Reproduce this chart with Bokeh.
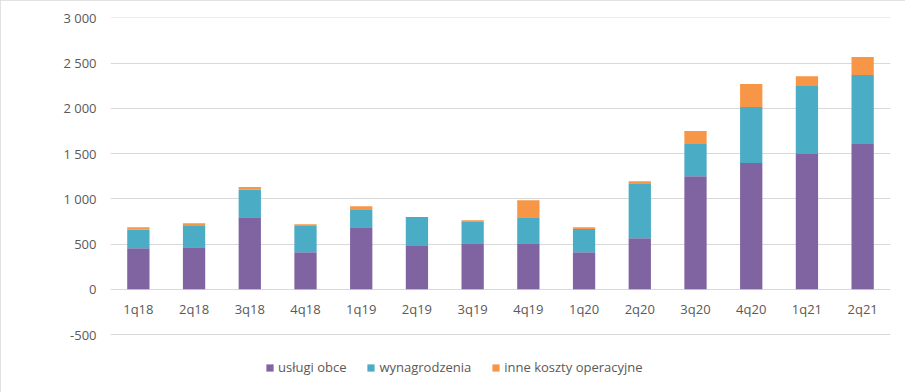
from bokeh.plotting import figure
from bokeh.models import ColumnDataSource, Range1d, FixedTicker, Legend, LegendItem
from bokeh.core.properties import value
from bokeh.embed import file_html
from bokeh.resources import INLINE

quarters = ["1q18", "2q18", "3q18", "4q18", "1q19", "2q19", "3q19", "4q19",
            "1q20", "2q20", "3q20", "4q20", "1q21", "2q21"]
uslugi_obce = [455, 465, 795, 410, 685, 478, 510, 510, 410, 565, 1250, 1395, 1495, 1605]
wynagrodzenia = [205, 235, 305, 298, 200, 320, 242, 287, 255, 607, 355, 618, 750, 762]
inne_koszty = [25, 30, 30, 12, 33, 0, 12, 188, 22, 23, 143, 255, 110, 200]
series_labels = ["usługi obce", "wynagrodzenia", "inne koszty operacyjne"]
y_ticks = [-500, 0, 500, 1000, 1500, 2000, 2500, 3000]
y_tick_labels = ["-500", "0", "500", "1 000", "1 500", "2 000", "2 500", "3 000"]

colors = ["#8064A2", "#4BACC6", "#F79646"]
FONT = "Open Sans"
TXT = "#595959"

src = ColumnDataSource(dict(q=quarters, a=uslugi_obce, b=wynagrodzenia, c=inne_koszty,
                            zero=[0] * len(quarters)))

p = figure(x_range=quarters, y_range=Range1d(-1140, 3003), width=905, height=392,
           output_backend="svg", toolbar_location=None, x_axis_location=None,
           min_border_left=110, min_border_right=15, min_border_top=17, min_border_bottom=0)
p.outline_line_color = None
p.background_fill_color = "white"
p.border_fill_color = "white"

rs = p.vbar_stack(["a", "b", "c"], x="q", width=0.4, color=colors, line_color=None, source=src)

# category labels sitting just under the zero line
p.text(x="q", y="zero", text="q", source=src, y_offset=20, text_align="center",
       text_baseline="middle", text_font=value(FONT), text_font_size="13px", text_color=TXT)

p.xgrid.visible = False
p.ygrid.grid_line_color = "#D9D9D9"
p.ygrid.grid_line_width = 1
p.ygrid.ticker = FixedTicker(ticks=y_ticks)

ya = p.yaxis[0]
ya.ticker = FixedTicker(ticks=y_ticks)
ya.major_label_overrides = {t: l for t, l in zip(y_ticks, y_tick_labels)}
ya.axis_line_color = None
ya.major_tick_line_color = None
ya.minor_tick_line_color = None
ya.major_tick_out = 0
ya.major_label_standoff = 14
ya.major_label_text_font = FONT
ya.major_label_text_font_size = "13px"
ya.major_label_text_color = TXT

legend = Legend(items=[LegendItem(label=l, renderers=[r]) for l, r in zip(series_labels, rs)],
                orientation="horizontal", location=(155, 16), padding=0, margin=0,
                spacing=20, glyph_width=9, glyph_height=9, label_standoff=4,
                label_text_font=FONT, label_text_font_size="13px", label_text_color=TXT,
                border_line_color=None, background_fill_alpha=0)
p.add_layout(legend, "center")

p.styles = {"outline": "1px solid #D9D9D9", "outline-offset": "-1px"}

open("out.html", "w").write(file_html(p, INLINE))
